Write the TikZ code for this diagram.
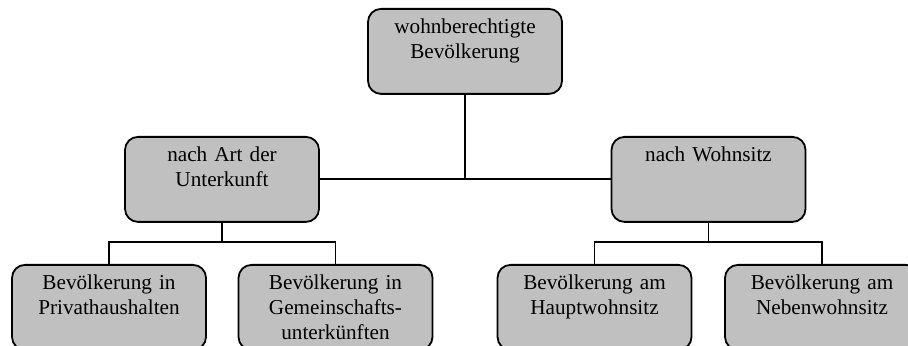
\documentclass[tikz,border=0pt]{standalone}
\usepackage{fontspec}
\setmainfont{Liberation Serif}
\definecolor{kastengrau}{HTML}{C0C0C0}

\begin{document}
\begin{tikzpicture}[x=0.5pt,y=0.5pt,
    kasten/.style={draw, fill=kastengrau, line width=0.9pt, rounded corners=6.5pt,
      anchor=north, align=center, text width=97pt, inner xsep=0pt, inner ysep=0pt,
      text height=12.5pt, text depth=30pt, font=\fontsize{10.6pt}{12.5pt}\selectfont},
    linie/.style={line width=0.9pt}]
			\useasboundingbox (0,0) rectangle (908,346);
			\node[kasten] (wohn) at (465,338) {wohnberechtigte\\Bevölkerung};
			\node[kasten] (art) at (222,210) {nach Art der\\Unterkunft};
			\node[kasten] (sitz) at (708.5,210) {nach Wohnsitz};
			\node[kasten] (privat) at (109,82) {Bevölkerung in\\Privathaushalten};
			\node[kasten] (gemein) at (335.5,82) {Bevölkerung in\\Gemeinschafts-\\unterkünften};
			\node[kasten] (haupt) at (594.5,82) {Bevölkerung am\\Hauptwohnsitz};
			\node[kasten] (neben) at (822,82) {Bevölkerung am\\Nebenwohnsitz};
			\coordinate (gabel1) at (222,104);
			\coordinate (gabel2) at (708.5,104);
			\draw[linie] (art) -- (sitz);
			\draw[linie] (wohn) -- (wohn |- art);
			\draw[linie] (art) -- (gabel1);
			\draw[linie] (privat) |- (gabel1) -| (gemein);
			\draw[linie] (sitz) -- (gabel2);
			\draw[linie] (haupt) |- (gabel2) -| (neben);
			\end{tikzpicture}
\end{document}
